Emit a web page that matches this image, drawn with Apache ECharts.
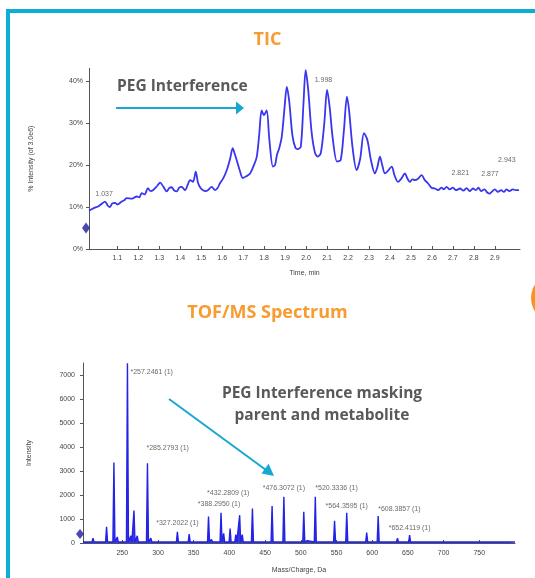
<!DOCTYPE html>
<html>
<head>
<meta charset="utf-8">
<script src="https://cdn.jsdelivr.net/npm/echarts@6/dist/echarts.min.js"></script>
<style>
html,body{margin:0;padding:0;background:#fff;}
#c{width:535px;height:578px;}
</style>
</head>
<body>
<div id="c"></div>
<script>
// ---------- DATA ----------
// TIC: [time (min), % intensity]
var ticPoints = [
[0.965,9.1],[0.99,9.8],[1.01,10.2],[1.032,11.0],[1.041,11.3],[1.055,10.3],[1.065,10.0],[1.075,10.8],
[1.089,11.0],[1.10,10.6],[1.121,11.3],[1.133,11.6],[1.145,12.1],[1.17,12.0],[1.193,12.5],[1.205,12.3],
[1.216,13.3],[1.23,13.0],[1.246,14.5],[1.258,13.8],[1.27,14.0],[1.29,15.0],[1.304,15.8],[1.32,14.8],
[1.336,13.7],[1.347,14.5],[1.359,14.7],[1.37,14.0],[1.383,13.7],[1.395,14.6],[1.407,14.8],[1.423,14.0],
[1.435,15.2],[1.447,16.4],[1.461,16.0],[1.474,18.4],[1.485,15.7],[1.497,14.5],[1.509,14.0],[1.52,13.8],
[1.532,14.0],[1.55,14.8],[1.566,14.0],[1.578,14.5],[1.59,15.7],[1.605,16.8],[1.622,18.8],[1.638,21.5],
[1.65,24.0],[1.66,22.6],[1.669,21.2],[1.685,18.5],[1.698,16.9],[1.715,17.3],[1.733,18.0],[1.75,19.8],
[1.765,22.0],[1.777,27.5],[1.788,33.0],[1.799,31.9],[1.812,33.0],[1.825,26.0],[1.842,19.6],[1.852,20.0],
[1.861,22.4],[1.872,24.0],[1.884,26.7],[1.898,34.0],[1.908,38.6],[1.92,35.0],[1.935,27.0],[1.95,24.0],
[1.962,23.8],[1.975,24.4],[1.988,35.0],[1.998,42.6],[2.01,38.0],[2.026,28.0],[2.042,23.0],[2.055,22.0],
[2.07,22.8],[2.087,30.0],[2.10,37.9],[2.112,34.0],[2.128,26.0],[2.148,20.8],[2.165,21.2],[2.18,28.0],
[2.195,36.3],[2.205,33.0],[2.222,24.0],[2.241,18.8],[2.258,21.5],[2.276,27.6],[2.292,26.0],[2.31,21.0],
[2.328,18.0],[2.34,19.5],[2.352,22.0],[2.364,19.8],[2.376,18.0],[2.39,18.6],[2.408,19.6],[2.422,17.5],
[2.438,16.0],[2.455,16.8],[2.471,18.0],[2.483,16.8],[2.495,16.0],[2.507,16.6],[2.519,16.4],[2.535,16.8],
[2.551,17.6],[2.566,16.4],[2.582,15.6],[2.598,14.6],[2.614,14.4],[2.63,14.0],[2.645,14.6],[2.657,14.2],
[2.67,14.8],[2.685,14.2],[2.70,14.6],[2.715,14.0],[2.734,14.4],[2.75,13.9],[2.765,14.5],[2.78,13.8],
[2.796,14.4],[2.81,14.0],[2.821,14.6],[2.835,13.8],[2.85,14.2],[2.865,13.4],[2.877,13.2],[2.885,13.6],
[2.90,14.2],[2.915,13.6],[2.93,14.0],[2.943,13.6],[2.955,14.2],[2.97,13.8],[2.985,14.2],[3.0,14.0],[3.015,14.0]
];
var ticTickLabels = [1.1,1.2,1.3,1.4,1.5,1.6,1.7,1.8,1.9,2.0,2.1,2.2,2.3,2.4,2.5,2.6,2.7,2.8,2.9];
var ticYLabels = [0,10,20,30,40];
var ticPeakTimes = [1.037,1.998,2.821,2.877,2.943];
var ticPeakValues = [11.1,42.6,14.6,13.2,13.6];
var ticMarker = [5];

// Spectrum peaks: m/z and intensity
var specMz  = [209,228,238.3,243,257.2461,262,266.4,271,285.2793,290,300,313,327.2022,343.7,356,370.8,375,
               388.295,392,401,409,414.4,418,432.2809,440,459.8,476.3072,488,504.2,509,520.3336,530,547.3,555,
               564.3595,575,592.3,600,608.3857,620,635.4,652.4119,665,680,700,725,748,770,790];
var specInt = [200,680,3350,250,7490,300,1350,300,3320,200,100,80,470,370,80,1100,150,
               1260,400,600,350,1160,350,1440,120,1540,1930,120,1300,100,1930,120,930,100,
               1260,100,430,100,1120,100,200,330,100,120,100,60,110,60,50];
var specLabelMz = [257.2461,285.2793,327.2022,388.295,432.2809,476.3072,520.3336,564.3595,608.3857,652.4119];
var specLabelText = ['257.2461 (1)','285.2793 (1)','327.2022 (1)','388.2950 (1)','432.2809 (1)',
                     '476.3072 (1)','520.3336 (1)','564.3595 (1)','608.3857 (1)','652.4119 (1)'];
var specXLabels = [250,300,350,400,450,500,550,600,650,700,750];
var specYLabels = [0,1000,2000,3000,4000,5000,6000,7000];
var specMarker = [375];
var specBase = 40;

// ---------- LAYOUT / STYLE (not data) ----------
var ticLabelLayout = [
  {align:'center', off:[0,-8]},
  {align:'left',   off:[9,10]},
  {align:'center', off:[-18,-15]},
  {align:'center', off:[0,-19]},
  {align:'center', off:[3,-32]}
];
var specLabelLayout = [
  {align:'left',off:[3,9]},{align:'left',off:[-1,-15]},{align:'center',off:[0,-9]},
  {align:'center',off:[-2,-9]},{align:'right',off:[-3,-15]},{align:'center',off:[0,-9]},
  {align:'left',off:[0,-9]},{align:'center',off:[0,-7]},{align:'left',off:[0,-7]},{align:'center',off:[0,-7]}
];

// ---------- BUILD ----------
var specLine = [];
var order = specMz.map(function(m,i){return i;}).sort(function(a,b){return specMz[a]-specMz[b];});
specLine.push([195, specBase]);
order.forEach(function(i){
  specLine.push([specMz[i]-1.4, specBase]);
  specLine.push([specMz[i], specInt[i]]);
  specLine.push([specMz[i]+1.4, specBase]);
});
specLine.push([800, specBase]);

function heightAt(m){ var i = specMz.indexOf(m); return specInt[i]; }

var ticLabelData = ticPeakTimes.map(function(t,i){
  var L = ticLabelLayout[i];
  return {value:[t, ticPeakValues[i]], label:{show:true, formatter:String(t.toFixed(3)), position:'inside',
          align:L.align, verticalAlign:'middle', offset:L.off}};
});
var specLabelData = specLabelMz.map(function(m,i){
  var L = specLabelLayout[i];
  return {value:[m, heightAt(m)], label:{show:true, formatter:'*'+specLabelText[i], position:'inside',
          align:L.align, verticalAlign:'middle', offset:L.off}};
});

var axisCol = '#555';
var txtCol = '#444';
var small = {fontFamily:'Liberation Sans', fontSize:7, color:txtCol};
var teal = '#17a8cf';

var chart = echarts.init(document.getElementById('c'), null, {renderer:'canvas'});
chart.setOption({
  animation:false,
  backgroundColor:'#fff',
  title:[
    {text:'TIC', left:'center', top:26, textStyle:{color:'#f79b32', fontSize:18, fontWeight:'bold', fontFamily:'Open Sans'}},
    {text:'TOF/MS Spectrum', left:'center', top:299, textStyle:{color:'#f79b32', fontSize:18, fontWeight:'bold', fontFamily:'Open Sans'}}
  ],
  grid:[
    {left:89, right:15, top:68.4, bottom:329},
    {left:83, right:20, top:363, bottom:35}
  ],
  xAxis:[
    {gridIndex:0, type:'value', min:0.965, max:3.02,
     name:'Time, min', nameLocation:'middle', nameGap:21, nameTextStyle:small,
     axisLine:{lineStyle:{color:axisCol}}, splitLine:{show:false},
     axisTick:{inside:true, length:3, lineStyle:{color:axisCol}, customValues:ticTickLabels},
     axisLabel:Object.assign({customValues:ticTickLabels, margin:6, formatter:function(v){return v.toFixed(1);}}, small)},
    {gridIndex:1, type:'value', min:195, max:800,
     name:'Mass/Charge, Da', nameLocation:'middle', nameGap:24, nameTextStyle:small,
     axisLine:{lineStyle:{color:axisCol}}, splitLine:{show:false},
     axisTick:{inside:true, length:3, lineStyle:{color:axisCol}, customValues:specXLabels},
     axisLabel:Object.assign({customValues:specXLabels, margin:7, formatter:function(v){return String(v);}}, small)}
  ],
  yAxis:[
    {gridIndex:0, type:'value', min:0, max:43,
     name:'% Intensity (of 3.0e6)', nameLocation:'middle', nameGap:54, nameTextStyle:small,
     axisLine:{show:true, lineStyle:{color:axisCol}}, splitLine:{show:false},
     axisTick:{show:true, length:3, lineStyle:{color:axisCol}, customValues:ticYLabels},
     axisLabel:Object.assign({customValues:ticYLabels, margin:6, formatter:function(v){return v+'%';}}, small)},
    {gridIndex:1, type:'value', min:0, max:7500,
     name:'Intensity', nameLocation:'middle', nameGap:50, nameTextStyle:small,
     axisLine:{show:true, lineStyle:{color:axisCol}}, splitLine:{show:false},
     axisTick:{show:true, length:3, lineStyle:{color:axisCol}, customValues:specYLabels},
     axisLabel:Object.assign({customValues:specYLabels, margin:8, formatter:function(v){return String(v);}}, small)}
  ],
  series:[
    {type:'line', xAxisIndex:0, yAxisIndex:0, data:ticPoints, showSymbol:false, smooth:0.3,
     lineStyle:{color:'#3a35ee', width:1.8}, z:3},
    {type:'scatter', xAxisIndex:0, yAxisIndex:0, data:ticLabelData, symbolSize:0,
     label:Object.assign({show:true}, small), z:5},
    {type:'scatter', xAxisIndex:0, yAxisIndex:0, data:ticMarker.map(function(v){return [0.965, v];}),
     symbol:'diamond', symbolSize:[8,11], symbolOffset:[-3,0], itemStyle:{color:'#1c1c9c'}, z:6},
    {type:'line', xAxisIndex:1, yAxisIndex:1, data:specLine, showSymbol:false,
     lineStyle:{color:'#2323e6', width:1.4}, areaStyle:{color:'#2323e6', opacity:0.9}, z:3},
    {type:'scatter', xAxisIndex:1, yAxisIndex:1, data:specLabelData, symbolSize:0,
     label:Object.assign({show:true}, small), z:5},
    {type:'scatter', xAxisIndex:1, yAxisIndex:1, data:specMarker.map(function(v){return [195, v];}),
     symbol:'diamond', symbolSize:[8,10], symbolOffset:[-3,0], itemStyle:{color:'#1c1c9c'}, z:6}
  ],
  graphic:[
    {type:'rect', shape:{x:6, y:9, width:529, height:4}, style:{fill:'#0caed6'}, silent:true},
    {type:'rect', shape:{x:6, y:9, width:4, height:569}, style:{fill:'#0caed6'}, silent:true},
    {type:'circle', shape:{cx:556, cy:298, r:25}, style:{fill:'#f7941d'}, silent:true},
    {type:'text', left:117, top:79, style:{text:'PEG Interference', fill:'#58595b', font:'bold 15.5px "Open Sans"'}},
    {type:'line', shape:{x1:116, y1:108, x2:238, y2:108}, style:{stroke:teal, lineWidth:2}},
    {type:'polygon', shape:{points:[[236,101.5],[244,108],[236,114.5]]}, style:{fill:teal}},
    {type:'text', x:322, y:383, style:{text:'PEG Interference masking\nparent and metabolite', fill:'#58595b',
      font:'bold 15.5px "Open Sans"', align:'center', lineHeight:22}},
    {type:'line', shape:{x1:169, y1:399, x2:266, y2:470}, style:{stroke:teal, lineWidth:2}},
    {type:'polygon', shape:{points:[[274,476],[261.5,473.5],[268.6,463.8]]}, style:{fill:teal}}
  ]
});
</script>
</body>
</html>
